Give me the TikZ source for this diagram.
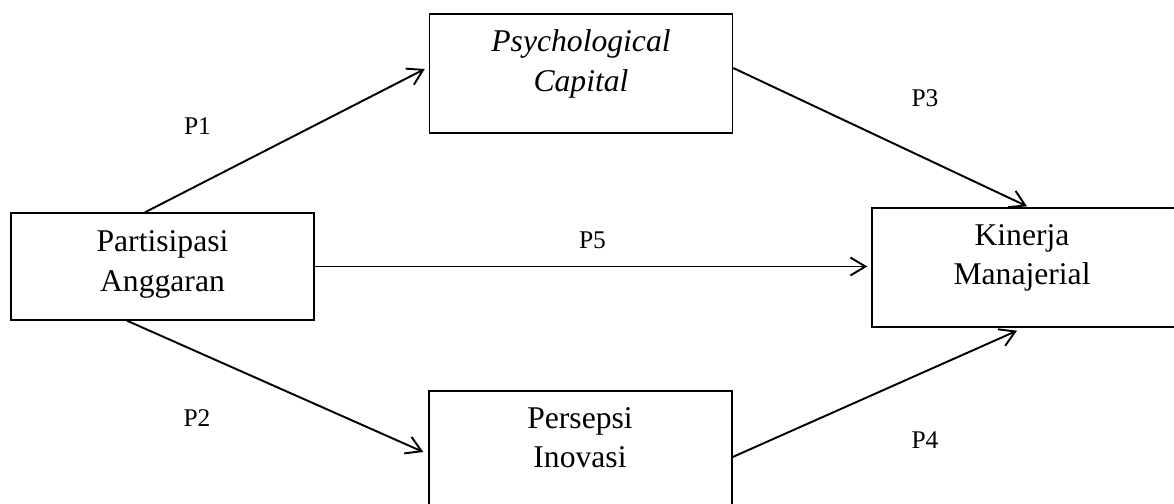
\documentclass[tikz,border=0pt]{standalone}
\usepackage{fontspec}
\setmainfont{Liberation Serif}
\usetikzlibrary{arrows.meta, positioning, calc}

\begin{document}
\begin{tikzpicture}[>={Straight Barb[length=3mm,width=3.6mm]},
    box/.style={draw, rectangle, line width=0.8pt, minimum width=6.06cm, minimum height=2.38cm, inner sep=0pt},
    txt/.style={align=center, font=\fontsize{18}{22.5}\selectfont},
    lbl/.style={font=\fontsize{14.5}{17}\selectfont},
    link/.style={->, line width=1.1pt}]
    \useasboundingbox (0,0) rectangle (23.48,10.08);

    % Boxes
    \node (part) [box, minimum height=2.14cm] at (3.25, 4.75) {};
    \node (psy) [box] at (11.62, 8.61) {};
    \node (kin) [box, minimum width=6.16cm] at (20.52, 4.73) {};
    \node (pers) [box] at (11.61, 1.07) {};

    % Box texts
    \node (part_txt) [txt] at (3.25, 4.79) {Partisipasi\\Anggaran};
    \node (psy_txt) [txt] at (11.62, 8.80) {\textit{Psychological}\\\textit{Capital}};
    \node (kin_txt) [txt] at (20.44, 4.92) {Kinerja\\Manajerial};
    \node (pers_txt) [txt] at (11.60, 1.33) {Persepsi\\Inovasi};

    % Paths
    \draw [link] ($(part.north)+(-0.35,0)$) -- ($(psy.west)+(-0.08,0.09)$);
    \draw [link] (part.east) -- ($(part.east -| kin.west)+(-0.08,0)$);
    \draw [link] ($(part.south)+(-0.71,0)$) -- ($(pers.west)+(-0.1,-0.03)$);
    \draw [link] ($(psy.east)+(0,0.11)$) -- ($(kin.north)+(0.02,0.02)$);
    \draw [link] ($(pers.east)+(0,-0.13)$) -- ($(kin.south)+(-0.18,-0.06)$);

    % Labels
    \node (p1) [lbl] at (3.95, 7.55) {P1};
    \node (p2) [lbl] at (3.94, 1.72) {P2};
    \node (p3) [lbl] at (18.5, 8.12) {P3};
    \node (p4) [lbl] at (18.5, 1.28) {P4};
    \node (p5) [lbl] at (11.85, 5.28) {P5};
\end{tikzpicture}
\end{document}
